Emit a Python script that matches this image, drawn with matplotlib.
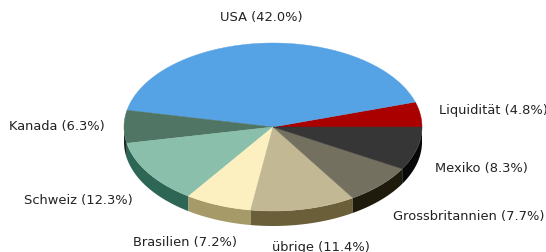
import numpy as np
import matplotlib
matplotlib.use("Agg")
import matplotlib.pyplot as plt
from matplotlib.patches import Polygon

# slices, counter-clockwise starting at 3 o'clock
labels = ["Liquidität", "USA", "Kanada", "Schweiz", "Brasilien", "übrige",
          "Grossbritannien", "Mexiko"]
shares = [4.8, 42.0, 6.3, 12.3, 7.2, 11.4, 7.7, 8.3]
top_colors = ["#aa0000", "#55a3e4", "#507565", "#8abfac", "#fdf0c0", "#c2b893",
              "#737060", "#363636"]
side_colors = ["#550000", "#2a5272", "#1a2a22", "#2e6655", "#a59a68", "#6b5f3a",
               "#1e1a0c", "#080808"]

W, H = 546, 252
cx, cy = 273, 127
rx, ry = 149, 84
depth = 15

fig = plt.figure(figsize=(W / 100, H / 100), dpi=100)
ax = fig.add_axes([0, 0, 1, 1])
ax.set_xlim(0, W)
ax.set_ylim(H, 0)
ax.axis("off")


def arc(a0, a1, dy=0, n=80):
    t = np.radians(np.linspace(a0, a1, n))
    return np.column_stack([cx + rx * np.cos(t), cy - ry * np.sin(t) + dy])


bounds = np.concatenate([[0], np.cumsum(shares)]) / sum(shares) * 360

# side walls (front half only)
for i in range(len(shares)):
    a0, a1 = max(bounds[i], 180), min(bounds[i + 1], 360)
    if a1 <= a0:
        continue
    pts = np.vstack([arc(a0, a1), arc(a0, a1, depth)[::-1]])
    ax.add_patch(Polygon(pts, closed=True, fc=side_colors[i], ec="none"))

# top faces
for i in range(len(shares)):
    pts = np.vstack([[cx, cy], arc(bounds[i], bounds[i + 1]), [cx, cy]])
    ax.add_patch(Polygon(pts, closed=True, fc=top_colors[i], ec=top_colors[i], lw=0.3))

# labels
fig.canvas.draw()
r = fig.canvas.get_renderer()
for i in range(len(shares)):
    mid = np.radians((bounds[i] + bounds[i + 1]) / 2)
    c, s = np.cos(mid), np.sin(mid)
    x = cx + 168 * c
    y = cy - 110 * s + (13 if s < 0 else 0)
    t = ax.text(x, y, "%s (%.1f%%)" % (labels[i], shares[i]), fontsize=9.4,
                color="#222222", ha="left", va="center")
    bb = t.get_window_extent(r)
    frac = np.clip(0.5 - 0.68 * c, 0, 1)
    t.set_x(x - frac * bb.width)

fig.savefig("out.png", dpi=100)
